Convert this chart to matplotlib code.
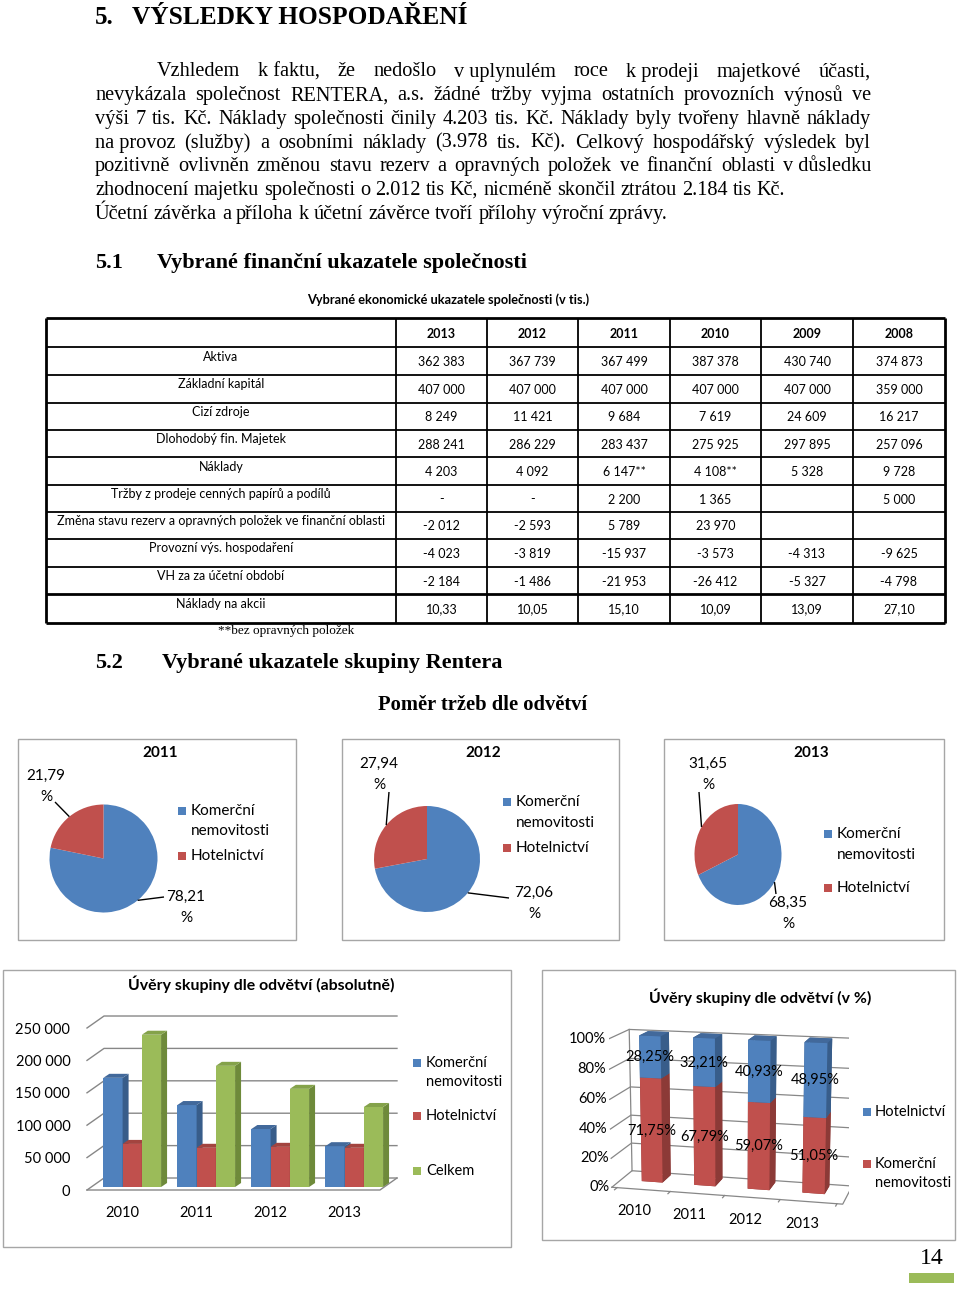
import matplotlib
matplotlib.use("Agg")
import matplotlib.pyplot as plt
from matplotlib.patches import Rectangle, Polygon
from matplotlib.lines import Line2D
from mpl_toolkits.mplot3d import proj3d
import numpy as np

W, H = 960, 1289
SERIF = ["Liberation Serif", "DejaVu Serif"]
SANS = ["Lato", "DejaVu Sans"]

BLUE, BLUE_D, BLUE_T = "#4F81BD", "#385D8A", "#42699B"
RED, RED_D, RED_T = "#C0504D", "#8C3A37", "#A3443F"
GREEN, GREEN_D, GREEN_T = "#9BBB59", "#6E8A3A", "#84A24A"
GRID = "#878787"
FRAME = "#a6a6a6"

# ---------------- data ----------------
heading = "VÝSLEDKY HOSPODAŘENÍ"
body_lines = [
    "Vzhledem k\u00a0faktu, že nedošlo v\u00a0uplynulém roce k\u00a0prodeji majetkové účasti,",
    "nevykázala společnost RENTERA, a.s. žádné tržby vyjma ostatních provozních výnosů ve",
    "výši 7 tis. Kč. Náklady společnosti činily 4.203 tis. Kč. Náklady byly tvořeny hlavně náklady",
    "na\u00a0provoz (služby) a osobními náklady (3.978 tis. Kč). Celkový hospodářský výsledek byl",
    "pozitivně ovlivněn změnou stavu rezerv a opravných položek ve finanční oblasti v\u00a0důsledku",
    "zhodnocení majetku společnosti o 2.012 tis Kč, nicméně skončil ztrátou 2.184 tis Kč.",
    "Účetní závěrka a příloha k účetní závěrce tvoří přílohy výroční zprávy.",
]
body_justified = [True, True, True, True, True, False, False]

table_title = "Vybrané ekonomické ukazatele společnosti (v tis.)"
table_years = ["2013", "2012", "2011", "2010", "2009", "2008"]
table_rows = ["Aktiva", "Základní kapitál", "Cizí zdroje", "Dlohodobý fin. Majetek", "Náklady",
              "Tržby z prodeje cenných papírů a podílů",
              "Změna stavu rezerv a opravných položek ve finanční oblasti",
              "Provozní výs. hospodaření", "VH za za účetní období", "Náklady na akcii"]
col_2013 = ["362 383", "407 000", "8 249", "288 241", "4 203", "-", "-2 012", "-4 023", "-2 184", "10,33"]
col_2012 = ["367 739", "407 000", "11 421", "286 229", "4 092", "-", "-2 593", "-3 819", "-1 486", "10,05"]
col_2011 = ["367 499", "407 000", "9 684", "283 437", "6 147**", "2 200", "5 789", "-15 937", "-21 953", "15,10"]
col_2010 = ["387 378", "407 000", "7 619", "275 925", "4 108**", "1 365", "23 970", "-3 573", "-26 412", "10,09"]
col_2009 = ["430 740", "407 000", "24 609", "297 895", "5 328", "", "", "-4 313", "-5 327", "13,09"]
col_2008 = ["374 873", "359 000", "16 217", "257 096", "9 728", "5 000", "", "-9 625", "-4 798", "27,10"]
table_cols = [col_2013, col_2012, col_2011, col_2010, col_2009, col_2008]

sectors = ["Komerční nemovitosti", "Hotelnictví"]
pie_years = ["2011", "2012", "2013"]
pie_komercni = [78.21, 72.06, 68.35]
pie_hotel = [21.79, 27.94, 31.65]

loan_years = ["2010", "2011", "2012", "2013"]
loan_komercni = [168500, 126500, 89500, 63000]
loan_hotel = [66500, 60500, 62000, 60500]
loan_total = [235000, 187000, 151500, 123500]
loan_ticks = [0, 50000, 100000, 150000, 200000, 250000]

share_komercni = [71.75, 67.79, 59.07, 51.05]
share_hotel = [28.25, 32.21, 40.93, 48.95]
share_ticks = [0, 20, 40, 60, 80, 100]

# ---------------- helpers (pixel layout) ----------------
fig = plt.figure(figsize=(W / 100, H / 100), dpi=100)
renderer = fig.canvas.get_renderer()


def fx(x):
    return x / W


def fy(y):
    return 1 - y / H


def txt(x, y, s, size, family=SANS, ha="left", va="center", **kw):
    return fig.text(fx(x), fy(y), s, fontsize=size, family=family, ha=ha, va=va, **kw)


def px_axes(x0, y0, x1, y1, **kw):
    return fig.add_axes([fx(x0), fy(y1), (x1 - x0) / W, (y1 - y0) / H], **kw)


def frame(x0, y0, x1, y1, lw=1.0, color=FRAME):
    fig.add_artist(Rectangle((fx(x0), fy(y1)), (x1 - x0) / W, (y1 - y0) / H,
                             transform=fig.transFigure, fill=False, lw=lw, ec=color))


def seg(x0, y0, x1, y1, lw=1.0, color="black"):
    fig.add_artist(Line2D([fx(x0), fx(x1)], [fy(y0), fy(y1)], transform=fig.transFigure,
                          lw=lw, color=color, solid_capstyle="butt"))


def square(x, y, color, s=8):
    fig.add_artist(Rectangle((fx(x - s / 2), fy(y + s / 2)), s / W, s / H,
                             transform=fig.transFigure, fc=color, ec="none"))


def text_line(s, x0, x1, y, size, justify):
    words = s.split(" ")
    items = [txt(x0, y, w, size, SERIF) for w in words]
    widths = [t.get_window_extent(renderer).width for t in items]
    if justify and len(words) > 1:
        gap = (x1 - x0 - sum(widths)) / (len(words) - 1)
    else:
        gap = size * 100 / 72 * 0.25
    x = x0
    for t, w in zip(items, widths):
        t.set_x(fx(x))
        x += w + gap


# ---------------- text part ----------------
txt(95, 18, "5.", 18, SERIF, weight="bold")
txt(132, 18, heading, 18.3, SERIF, weight="bold")

line_y = 72
for i, (s, j) in enumerate(zip(body_lines, body_justified)):
    text_line(s, 157 if i == 0 else 95, 871, line_y + i * 23.7, 14.6, j)

txt(95, 263, "5.1", 16, SERIF, weight="bold")
txt(157, 263, "Vybrané finanční ukazatele společnosti", 16, SERIF, weight="bold")

# ---------------- table ----------------
txt(448, 300, table_title, 9.2, SANS, ha="center", weight="bold")
row_edges = [318, 347, 375, 403, 430, 457, 485, 512, 539, 567, 594, 623]
col_edges = [46, 396, 487, 578, 670, 761, 853, 945]
for k, y in enumerate(row_edges):
    lw = 2.0 if k in (0, 10, 11) else 1.3
    seg(col_edges[0], y, col_edges[-1], y, lw=lw)
for k, x in enumerate(col_edges):
    lw = 2.0 if k in (0, 7) else 1.3
    seg(x, row_edges[0], x, row_edges[-1], lw=lw)
for j, yr in enumerate(table_years):
    txt((col_edges[j + 1] + col_edges[j + 2]) / 2, (row_edges[0] + row_edges[1]) / 2 + 1,
        yr, 9, SANS, ha="center", weight="bold")
for i, lab in enumerate(table_rows):
    top, bot = row_edges[i + 1], row_edges[i + 2]
    txt((col_edges[0] + col_edges[1]) / 2, (top + bot) / 2 - 4.5, lab, 9, SANS, ha="center")
    for j, col in enumerate(table_cols):
        txt((col_edges[j + 1] + col_edges[j + 2]) / 2, (top + bot) / 2 + 1, col[i], 9, SANS,
            ha="center")
txt(218, 631, "**bez opravných položek", 9.5, SERIF)

txt(95, 663, "5.2", 16, SERIF, weight="bold")
txt(162, 663, "Vybrané ukazatele skupiny Rentera", 16, SERIF, weight="bold")
txt(483, 705, "Poměr tržeb dle odvětví", 14.8, SERIF, ha="center", weight="bold")

# ---------------- pies ----------------
pie_layout = [
    # frame, centre+radii, title x, label anchors, leader ends, legend x / ys
    dict(box=(18, 739, 296, 940), c=(103.5, 858.5, 54, 54), tx=160,
         lab_h=(46, 776), lab_k=(186, 897), end_h=(55, 802), end_k=(164, 897),
         leg_x=182, leg_y=(811, 831, 856)),
    dict(box=(342, 739, 619, 940), c=(427, 859, 53, 53), tx=483,
         lab_h=(379, 764), lab_k=(534, 893), end_h=(389, 792), end_k=(509, 898),
         leg_x=507, leg_y=(802, 823, 848)),
    dict(box=(664, 739, 944, 940), c=(738, 854.5, 43.5, 50.5), tx=811,
         lab_h=(708, 764), lab_k=(788, 903), end_h=(699, 792), end_k=(776, 894),
         leg_x=828, leg_y=(834, 855, 888)),
]
for yr, k, h, L in zip(pie_years, pie_komercni, pie_hotel, pie_layout):
    frame(*L["box"])
    cx, cy, rx, ry = L["c"]
    ax = px_axes(cx - rx, cy - ry, cx + rx, cy + ry)
    ax.pie([k, h], colors=[BLUE, RED], startangle=90, counterclock=False,
           labeldistance=None, wedgeprops=dict(linewidth=0))
    ax.set_xlim(-1, 1)
    ax.set_ylim(-1, 1)
    ax.set_aspect("auto")
    ax.axis("off")
    txt(L["tx"], 753, yr, 11, SANS, ha="center", weight="bold")
    # leader lines from the middle of each slice
    tot = k + h
    mid_k = np.deg2rad(90 - 180 * k / tot)
    mid_h = np.deg2rad(90 - 360 * k / tot - 180 * h / tot)
    for mid, end, lab, val in [(mid_h, L["end_h"], L["lab_h"], h), (mid_k, L["end_k"], L["lab_k"], k)]:
        seg(cx + rx * np.cos(mid), cy - ry * np.sin(mid), end[0], end[1], lw=1.0)
        txt(lab[0], lab[1], f"{val:.2f}".replace(".", ","), 11, SANS, ha="center")
        txt(lab[0], lab[1] + 21, "%", 11, SANS, ha="center")
    lx = L["leg_x"]
    square(lx, L["leg_y"][0], BLUE)
    txt(lx + 9, L["leg_y"][0], "Komerční", 11, SANS)
    txt(lx + 9, L["leg_y"][1], "nemovitosti", 11, SANS)
    square(lx, L["leg_y"][2], RED)
    txt(lx + 9, L["leg_y"][2], sectors[1], 11, SANS)

# ---------------- loans, absolute (oblique 3D columns) ----------------
frame(3, 970, 511, 1247)
txt(261, 984, "Úvěry skupiny dle odvětví (absolutně)", 11.4, SANS, ha="center", weight="bold")
ax1 = px_axes(87, 1000, 410, 1195)
ax1.set_xlim(-0.554, 3.811)
ax1.set_ylim(-7716, 293210)
for s in ax1.spines.values():
    s.set_visible(False)
DX, DY = 0.23, 18500          # depth of the floor
BDX, BDY = 0.081, 6200        # depth of a column
BASE_X, BASE_Y = 0.057, 4600  # columns set back from the front edge
x_front_r = 3.405
for v in loan_ticks:
    ax1.plot([-0.554, -0.554 + DX, x_front_r + DX], [v, v + DY, v + DY], color=GRID, lw=1.0,
             zorder=1, clip_on=False)
ax1.plot([-0.554, x_front_r, x_front_r + DX], [0, 0, DY], color=GRID, lw=1.0, zorder=1, clip_on=False)

bw = 0.26
series = [(loan_komercni, BLUE, BLUE_D, BLUE_T), (loan_hotel, RED, RED_D, RED_T),
          (loan_total, GREEN, GREEN_D, GREEN_T)]
z = 2
for i in range(len(loan_years)):
    for k, (vals, cf, cs, ct) in enumerate(series):
        xc = i + (k - 1) * bw + BASE_X
        v = vals[i]
        ax1.bar(xc, v, bw, bottom=BASE_Y, color=cf, zorder=z, linewidth=0)
        xr, top = xc + bw / 2, BASE_Y + v
        ax1.add_patch(Polygon([(xr, BASE_Y), (xr + BDX, BASE_Y + BDY), (xr + BDX, top + BDY), (xr, top)],
                              closed=True, fc=cs, ec="none", zorder=z))
        ax1.add_patch(Polygon([(xc - bw / 2, top), (xr, top), (xr + BDX, top + BDY),
                               (xc - bw / 2 + BDX, top + BDY)], closed=True, fc=ct, ec="none", zorder=z))
        z += 1
ax1.set_yticks(loan_ticks)
ax1.set_yticklabels([f"{v:,}".replace(",", " ") for v in loan_ticks], fontsize=10.5, family=SANS)
ax1.set_xticks([i - 0.08 for i in range(len(loan_years))])
ax1.set_xticklabels(loan_years, fontsize=10.5, family=SANS)
ax1.tick_params(length=0)
ax1.tick_params(axis="y", pad=12)
ax1.tick_params(axis="x", pad=8)
ax1.patch.set_visible(False)

leg1 = [("Komerční", 1063, BLUE), ("nemovitosti", 1082, None), ("Hotelnictví", 1116, RED),
        ("Celkem", 1171, GREEN)]
for s, y, c in leg1:
    if c:
        square(417, y, c)
    txt(426, y, s, 10.5, SANS)

# ---------------- loans, share (perspective 3D stacked columns) ----------------
frame(542, 970, 955, 1240)
txt(760, 997, "Úvěry skupiny dle odvětví (v %)", 11.4, SANS, ha="center", weight="bold")
ax2 = px_axes(559, 997, 899, 1237, projection="3d")
ax2.set_proj_type("persp", focal_length=0.9)
ax2.view_init(elev=13, azim=-76)
XMIN, XMAX = -0.6, 3.6
ax2.set_xlim(XMIN, XMAX)
ax2.set_ylim(0, 1)
ax2.set_zlim(0, 100)
ax2.set_xticks([])
ax2.set_yticks([])
ax2.set_zticks([])
ax2.set_box_aspect((0.953, 0.256, 0.614), zoom=1.162)
ax2.set_axis_off()
ax2.patch.set_visible(False)
for v in share_ticks:
    ax2.plot([XMIN, XMIN, XMAX], [0, 1, 1], [v, v, v], color=GRID, lw=0.9)
ax2.plot([XMIN, XMIN], [1, 1], [0, 100], color=GRID, lw=0.9)
ax2.plot([XMIN, XMAX, XMAX], [0, 0, 1], [0, 0, 0], color=GRID, lw=0.9)
for t in np.arange(-0.5, XMAX, 1.0):
    ax2.plot([t, t], [0, -0.12], [0, 0], color=GRID, lw=0.9)

n = len(loan_years)
xs = np.arange(n) - 0.2
BY0, BDEPTH = 0.45, 0.45
face_cols = []
for _ in range(n):
    face_cols += [RED_D, RED_T, RED, RED_D, RED_D, RED_D]
for _ in range(n):
    face_cols += [BLUE_D, BLUE_T, BLUE, BLUE_D, BLUE_D, BLUE_D]
ax2.bar3d(np.concatenate([xs, xs]), np.full(2 * n, BY0), np.concatenate([np.zeros(n), share_komercni]),
          0.4, BDEPTH, np.concatenate([share_komercni, share_hotel]), color=face_cols, shade=False)

# labels of the 3D chart: project the 3D anchor and write it as plain figure text
fig.canvas.draw()
M = ax2.get_proj()


def text3d(x, y, zz, s, **kw):
    x2, y2, _ = proj3d.proj_transform(x, y, zz, M)
    X, Y = ax2.transData.transform((x2, y2))
    fig.text(X / fig.bbox.width, Y / fig.bbox.height, s, fontsize=10.5, family=SANS,
             va="center", **kw)


for i in range(n):
    text3d(xs[i] + 0.2, BY0, share_komercni[i] / 2, f"{share_komercni[i]:.2f}%".replace(".", ","),
           ha="center")
    text3d(xs[i] + 0.2, BY0, share_komercni[i] + share_hotel[i] / 2,
           f"{share_hotel[i]:.2f}%".replace(".", ","), ha="center")
    text3d(i, -0.45, -9, loan_years[i], ha="center")
for v in share_ticks:
    text3d(XMIN - 0.05, 0, v, f"{v}%", ha="right")

leg2 = [("Hotelnictví", 1112, BLUE), ("Komerční", 1164, RED), ("nemovitosti", 1183, None)]
for s, y, c in leg2:
    if c:
        square(867, y, c)
    txt(875, y, s, 10.5, SANS)

# ---------------- page number ----------------
txt(932, 1258, "14", 17, SERIF, ha="center")
fig.add_artist(Rectangle((fx(909), fy(1283)), 45 / W, 10 / H, transform=fig.transFigure,
                         fc=GREEN, ec="none"))

fig.savefig("out.png", dpi=100)
